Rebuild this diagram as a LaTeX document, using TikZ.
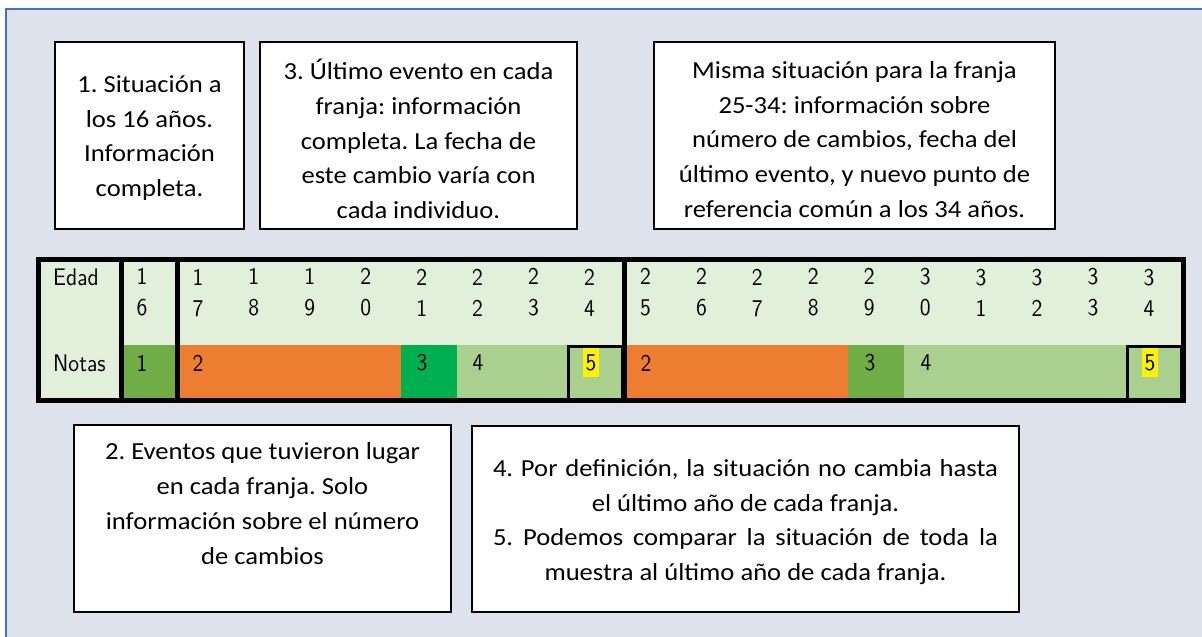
\documentclass[tikz,border=0pt]{standalone}
\usepackage{fontspec}
\newfontfamily\boxfont[FakeStretch=1.086]{Carlito}
\newfontfamily\digfont[FakeStretch=0.9]{lmsans10-regular.otf}
\definecolor{bgblue}{RGB}{222,226,237}
\definecolor{frameblue}{RGB}{68,114,196}
\definecolor{pale}{RGB}{226,239,218}
\definecolor{midgreen}{RGB}{112,173,71}
\definecolor{brightgreen}{RGB}{0,176,80}
\definecolor{lightgreen}{RGB}{169,208,142}
\definecolor{orangec}{RGB}{237,125,49}
\frenchspacing
\begin{document}
\begin{tikzpicture}[x=1pt,y=-1pt,
  textbox/.style={draw=black, line width=2pt, fill=white, inner sep=0pt},
  boxtext/.style={align=center, inner sep=0pt,
    font=\boxfont\fontsize{24.5pt}{34.8pt}\selectfont},
  digit/.style={font=\digfont\fontsize{24pt}{31pt}\selectfont, inner sep=0pt, align=center},
  hilite/.style={digit, fill=yellow, minimum width=16pt, minimum height=29pt},
  thickrule/.style={line width=5pt, black},
  fivebox/.style={line width=3pt, black}]
\useasboundingbox (0,0) rectangle (1202,637);
\clip (0,0) rectangle (1202,637);
\fill[white] (0,0) rectangle (1202,637);
\filldraw[fill=bgblue, draw=frameblue, line width=1.5pt] (6,9) rectangle (1220,660);

% top text boxes
\node[textbox, minimum width=189pt, minimum height=187pt] (b1) at (149.5,135.5) {};
\node[boxtext] (t1) at ([yshift=-2.5pt]b1.center)
  {1. Situación a\\los 16 años.\\Información\\completa.};
\node[textbox, minimum width=317pt, minimum height=187pt] (b3) at (418.5,135.5) {};
\node[boxtext] (t3) at ([yshift=-3.5pt]b3.center)
  {3. Último evento en cada\\franja: información\\completa. La fecha de\\este cambio varía con\\cada individuo.};
\node[textbox, minimum width=401pt, minimum height=187pt] (bm) at (854.5,135.5) {};
\node[boxtext] (tm) at ([yshift=-4pt]bm.center)
  {Misma situación para la franja\\25-34: información sobre\\número de cambios, fecha del\\último evento, y nuevo punto de\\referencia común a los 34 años.};

% table fills
\fill[pale] (41,262) rectangle (1181,399);
\fill[midgreen] (124,345) rectangle (175,399);
\fill[orangec] (180,345) rectangle (401,399);
\fill[brightgreen] (401,345) rectangle (456.5,399);
\fill[lightgreen] (456.5,345) rectangle (622,399);
\fill[orangec] (627,345) rectangle (848,399);
\fill[midgreen] (848,345) rectangle (904,399);
\fill[lightgreen] (904,345) rectangle (1181,399);

% boxes around the 5s
\draw[fivebox] (568.5,346.5) rectangle (622,399);
\draw[fivebox] (1127.5,346.5) rectangle (1181,399);

% thick rules
\draw[thickrule] (38.5,259.5) rectangle (1183.5,400.5);
\draw[thickrule] (121.5,259.5) -- (121.5,400.5);
\draw[thickrule] (177.5,259.5) -- (177.5,400.5);
\draw[thickrule] (624.5,259.5) -- (624.5,400.5);

% row labels
\node[digit, anchor=west] (edad) at (53,277) {Edad};
\node[digit, anchor=west] (notas) at (53,363) {Notas};

% ages
\foreach \k in {16,...,34}{
  \pgfmathtruncatemacro{\da}{int(\k/10)}
  \pgfmathtruncatemacro{\db}{mod(\k,10)}
  \node[digit] (d\k) at ({142+55.94*(\k-16)},292.5) {\da\\\db};
}

% notes
\node[digit] (n1) at (142,363) {1};
\node[digit] (n2a) at (198,363) {2};
\node[digit] (n3a) at (422,363) {3};
\node[digit] (n4a) at (478,363) {4};
\node[hilite] (n5a) at (591,362.5) {5};
\node[digit] (n2b) at (646,363) {2};
\node[digit] (n3b) at (870,363) {3};
\node[digit] (n4b) at (926,363) {4};
\node[hilite] (n5b) at (1150,362.5) {5};

% bottom text boxes
\node[textbox, minimum width=377pt, minimum height=187pt] (b2) at (262.5,518.5) {};
\node[boxtext] (t2) at ([yshift=15pt]b2.center)
  {2. Eventos que tuvieron lugar\\en cada franja. Solo\\información sobre el número\\de cambios};
\node[textbox, minimum width=547pt, minimum height=186pt] (b45) at (745.5,519) {};
\node[boxtext] (t45) at ([yshift=-3pt]b45.center)
  {\makebox[505pt][s]{4. Por definición, la situación no cambia hasta}\\
   el último año de cada franja.\\
   \makebox[505pt][s]{5. Podemos comparar la situación de toda la}\\
   muestra al último año de cada franja.};
\end{tikzpicture}
\end{document}
